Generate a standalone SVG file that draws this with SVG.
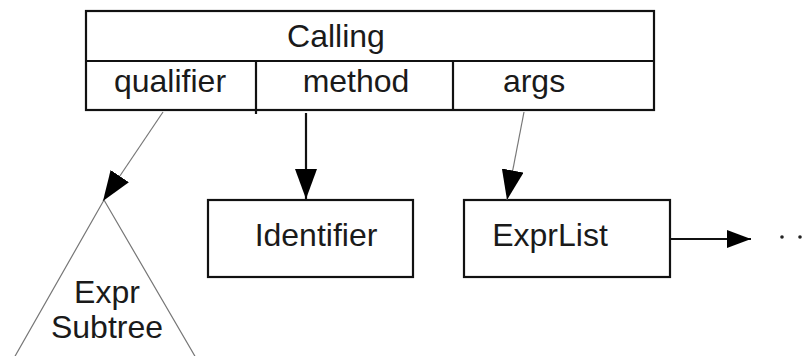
<svg xmlns="http://www.w3.org/2000/svg" width="812" height="356" viewBox="0 0 812 356">
<style>
text{font-family:"Liberation Sans",Arial,sans-serif;font-size:32px;fill:#1a1a1a;text-anchor:middle}
.box{fill:#fff;stroke:#111;stroke-width:2.2}
.thin{stroke:#777;stroke-width:1.2;fill:none}
.thick{stroke:#111;stroke-width:2.2;fill:none}
</style>
<defs>
<marker id="ah" markerUnits="userSpaceOnUse" markerWidth="30" markerHeight="22" viewBox="0 0 30 22" refX="30" refY="11" orient="auto">
<path d="M0,0 L30,11 L0,22 Z" fill="#000"/>
</marker>
<marker id="ah2" markerUnits="userSpaceOnUse" markerWidth="24" markerHeight="18" viewBox="0 0 24 18" refX="24" refY="9" orient="auto">
<path d="M0,0 L24,9 L0,18 Z" fill="#000"/>
</marker>
</defs>
<rect width="812" height="356" fill="#fff"/>
<g id="calling">
<rect class="box" x="86" y="11" width="568" height="99"/>
<line class="thick" x1="86" y1="61" x2="654" y2="61"/>
<line class="thick" x1="256" y1="61" x2="256" y2="114"/>
<line class="thick" x1="453" y1="61" x2="453" y2="110"/>
<text x="336" y="47">Calling</text>
<text x="170" y="92">qualifier</text>
<text x="356" y="92">method</text>
<text x="534" y="92">args</text>
</g>
<g id="expr-subtree">
<path class="thin" d="M104,200 L14,358 M104,200 L196,358" stroke="#888"/>
<text x="107" y="303">Expr</text>
<text x="107" y="338">Subtree</text>
</g>
<g id="identifier">
<rect class="box" x="208" y="200" width="205" height="77"/>
<text x="316" y="246">Identifier</text>
</g>
<g id="exprlist">
<rect class="box" x="464" y="200" width="206" height="77"/>
<text x="550" y="246">ExprList</text>
</g>
<g id="more">
<circle cx="782" cy="237" r="1.8" fill="#222"/>
<circle cx="800" cy="237" r="1.8" fill="#222"/>
</g>
<g id="connectors">
<line class="thin" x1="163" y1="112" x2="103" y2="201" marker-end="url(#ah)"/>
<line class="thick" x1="306" y1="113" x2="306" y2="199" marker-end="url(#ah)"/>
<line class="thin" x1="524" y1="112" x2="507" y2="200" marker-end="url(#ah)"/>
<line class="thick" x1="670" y1="239" x2="751" y2="239" marker-end="url(#ah2)"/>
</g>
</svg>
